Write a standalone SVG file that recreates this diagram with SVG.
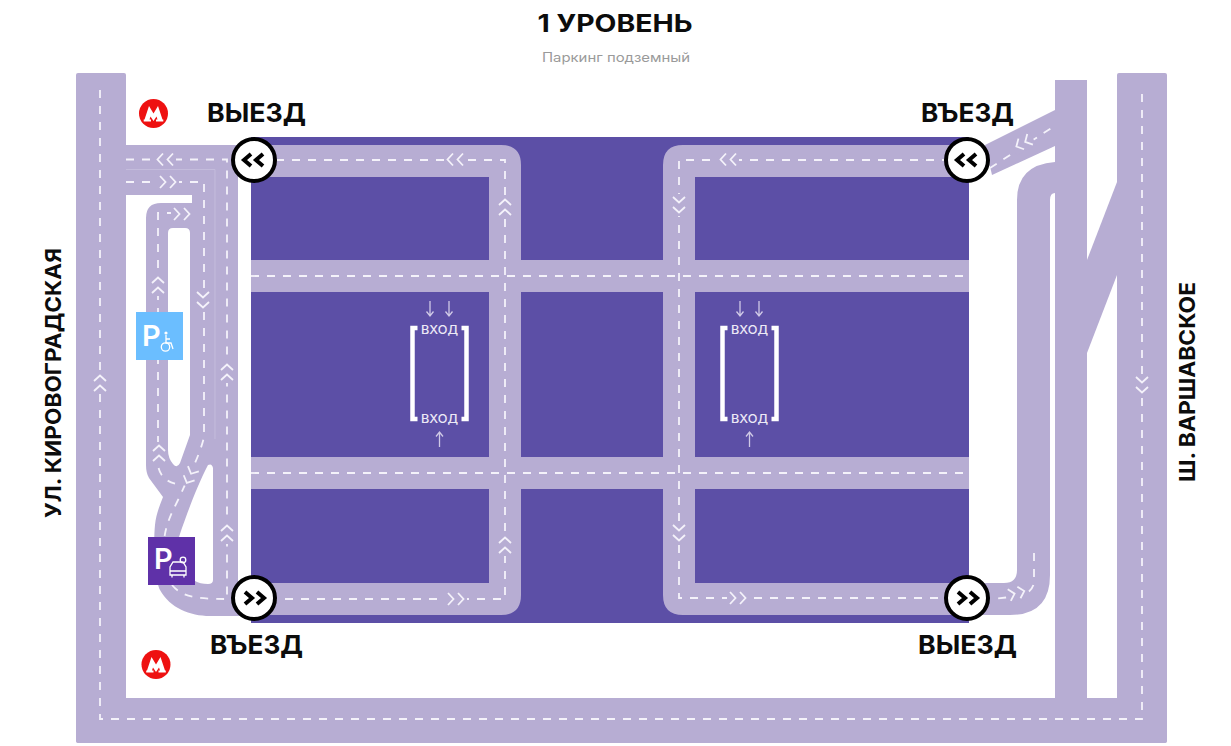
<svg xmlns="http://www.w3.org/2000/svg" xmlns:xlink="http://www.w3.org/1999/xlink" width="1231" height="746" viewBox="0 0 1231 746">
<style>
.road{fill:#b7add3}
.cut{fill:#fff}
.lane{fill:none;stroke:#f4f2fa;stroke-width:1.8;stroke-dasharray:8 8}
.chev{fill:none;stroke:#f4f2fa;stroke-width:1.8}
.sep{fill:none;stroke:#c4bcdc;stroke-width:1}
.ring{fill:#fff;stroke:#000;stroke-width:4}
.gate{fill:none;stroke:#000;stroke-width:4}
.lbl{font-family:"Inter","Liberation Sans",sans-serif;font-weight:700;fill:#0c0c0c}
.ent{font-family:"Inter","Liberation Sans",sans-serif;font-weight:500;font-size:11.5px;fill:#ece9f6;text-anchor:middle}
.arw{fill:none;stroke:#cfc9e6;stroke-width:1.3}
.brk{fill:none;stroke:#fff;stroke-width:4.5}
.ico{fill:none;stroke:#fff;stroke-width:1.3}
.pk{font-family:"Inter","Liberation Sans",sans-serif;font-weight:600;font-size:29px;fill:#fff}
</style>
<defs>
<g id="chv"><rect class="road" x="-8" y="-11" width="16" height="22"/><path class="chev" d="M-6 -2 L0 -7.500 L6 -2 M-6 8 L0 2.500 L6 8"/></g>
<g id="metroM"><circle r="14.500" fill="#ee1111"/><path fill="#fff" d="M-9 6 L-4.500 -7.500 L0 0 L4.500 -7.500 L9 6 L9.800 6 V8 H2.500 V6 H4 L3 3 L0 7.500 L-3 3 L-4 6 H-2.500 V8 H-9.800 V6 Z"/></g>
<g id="ll"><path class="gate" d="M-3 -6 L-10 0 L-3 6 M9 -6 L2 0 L9 6"/></g>
<g id="entry">
<path class="arw" d="M-9.500 -28 V-13 M-13 -17.500 L-9.500 -13 L-6 -17.500 M9.500 -28 V-13 M6 -17.500 L9.500 -13 L13 -17.500 M0 118 V103 M-3.500 107.500 L0 103 L3.500 107.500"/>
<path class="brk" d="M-22 0 H-27 V91 H-22 M22 0 H27 V91 H22" transform="translate(0 -1)"/>
<text class="ent" x="0" y="5" textLength="37" lengthAdjust="spacingAndGlyphs">ВХОД</text>
<text class="ent" x="0" y="94" textLength="37" lengthAdjust="spacingAndGlyphs">ВХОД</text>
</g>
</defs>
<rect width="1231" height="746" fill="#fff"/>
<text class="lbl" x="615" y="32" text-anchor="middle" font-size="24" textLength="155" lengthAdjust="spacingAndGlyphs">1 УРОВЕНЬ</text>
<text x="616" y="62" text-anchor="middle" font-family="Inter, 'Liberation Sans', sans-serif" font-size="12.500" fill="#9a9a9a" textLength="148" lengthAdjust="spacingAndGlyphs">Паркинг подземный</text>

<g id="building"><rect x="251" y="137" width="718" height="486" fill="#5c4fa6"/></g>
<g id="roads">
<rect class="road" x="76" y="73" width="50" height="670" rx="2"/>
<rect class="road" x="76" y="698" width="1091" height="45" rx="3"/>
<rect class="road" x="1117" y="73" width="50" height="670" rx="2"/>
<rect class="road" x="1055" y="80" width="32" height="625"/>
<path class="road" d="M1087 260 L1117 182 V275 L1087 353 Z"/>
<path class="road" d="M985 145 L1055 110 V146 L992 175 Z"/>
<path class="road" d="M1055 162 Q1017 165 1017 200 V570 Q1017 583 1004 583 H965 V615 H1010 Q1050 615 1050 575 V200 Q1050 193 1055 193 Z"/>
<path class="road" d="M126 145 H238 V583 H251 V616 H210 C190 616 170 608 160 590 C155 580 153 545 155 525 C156 515 159 507 163 497 L149 478 Q146 473 146 465 V218 Q146 203 161 203 H192 V195 H126 Z"/>
<path class="cut" d="M168 233 Q168 228 173 228 H185 Q190 228 190 233 V435 L180 463 Q177 469 173 464 Q168 458 168 450 Z"/>
<path class="cut" d="M208 465 Q212 463 213 468 V580 Q213 584 208 584 Q200 584 195 581 V537 H179 C183 525 195 490 208 465 Z"/>
<path class="road" d="M240 145 H501 Q521 145 521 165 V595 Q521 615 501 615 H240 V583 H489 V177 H240 Z"/>
<path class="road" d="M975 145 H683 Q663 145 663 165 V595 Q663 615 683 615 H975 V583 H695 V177 H975 Z"/>
<rect class="road" x="251" y="260" width="718" height="32"/>
<rect class="road" x="251" y="457" width="718" height="32"/>
<path class="sep" d="M126 169.500 H215 V439"/>
</g>
<g id="connectors">
<path class="lane" d="M100 90 V719 H1142 V93"/>
<path class="lane" d="M126 159.500 H227 V598"/>
<path class="lane" d="M126 182 H204 V437 C200 455 188 478 178 500 C170 516 166 525 164 540"/>
<path class="lane" d="M172 585 C182 597 195 599 227 599"/>
<path class="lane" d="M175 213 H158 V465 Q160 480 176 484"/>
<path class="lane" d="M276 160 H505 V599 H276"/>
<path class="lane" d="M950 160 H679 V598 H950"/>
<path class="lane" d="M251 276 H969"/>
<path class="lane" d="M251 473 H969"/>
<path class="lane" d="M990 168 L1053 127"/>
<path class="lane" d="M1034 553 V582 Q1033 592 1020 596 L992 599"/>
<use xlink:href="#chv" transform="translate(100 383)"/>
<use xlink:href="#chv" transform="translate(1142 385) rotate(180)"/>
<use xlink:href="#chv" transform="translate(165 159.500) rotate(-90)"/>
<use xlink:href="#chv" transform="translate(168 182) rotate(90)"/>
<use xlink:href="#chv" transform="translate(182 214) rotate(90)"/>
<use xlink:href="#chv" transform="translate(203 300) rotate(180)"/>
<use xlink:href="#chv" transform="translate(158 285)"/>
<use xlink:href="#chv" transform="translate(159 453)"/>
<use xlink:href="#chv" transform="translate(227 372)"/>
<use xlink:href="#chv" transform="translate(227 533)"/>
<use xlink:href="#chv" transform="translate(190 476) rotate(-155)"/>
<use xlink:href="#chv" transform="translate(505 207)"/>
<use xlink:href="#chv" transform="translate(505 545)"/>
<use xlink:href="#chv" transform="translate(679 205) rotate(180)"/>
<use xlink:href="#chv" transform="translate(679 533) rotate(180)"/>
<use xlink:href="#chv" transform="translate(455 159.500) rotate(-90)"/>
<use xlink:href="#chv" transform="translate(728 159.500) rotate(-90)"/>
<use xlink:href="#chv" transform="translate(456 599) rotate(90)"/>
<use xlink:href="#chv" transform="translate(738 598) rotate(90)"/>
<use xlink:href="#chv" transform="translate(1023 143) rotate(-118)"/>
<use xlink:href="#chv" transform="translate(1017 593) rotate(75)"/>
</g>

<g id="gate-exit-nw"><circle class="ring" cx="254" cy="160" r="21"/><use xlink:href="#ll" transform="translate(254 160)"/></g>
<g id="gate-entry-sw"><circle class="ring" cx="254" cy="598" r="21"/><use xlink:href="#ll" transform="translate(254 598) rotate(180)"/></g>
<g id="gate-entry-ne"><circle class="ring" cx="967" cy="160" r="21"/><use xlink:href="#ll" transform="translate(967 160)"/></g>
<g id="gate-exit-se"><circle class="ring" cx="967" cy="598" r="21"/><use xlink:href="#ll" transform="translate(967 598) rotate(180)"/></g>

<g id="label-nw"><text class="lbl" x="207" y="122" font-size="26" textLength="99" lengthAdjust="spacingAndGlyphs">ВЫЕЗД</text></g>
<g id="label-sw"><text class="lbl" x="210" y="654" font-size="26" textLength="93" lengthAdjust="spacingAndGlyphs">ВЪЕЗД</text></g>
<g id="label-ne"><text class="lbl" x="921" y="122" font-size="26" textLength="93" lengthAdjust="spacingAndGlyphs">ВЪЕЗД</text></g>
<g id="label-se"><text class="lbl" x="918" y="654" font-size="26" textLength="99" lengthAdjust="spacingAndGlyphs">ВЫЕЗД</text></g>
<g id="label-west"><text class="lbl" transform="translate(61 518) rotate(-90)" font-size="22" textLength="270" lengthAdjust="spacingAndGlyphs">УЛ. КИРОВОГРАДСКАЯ</text></g>
<g id="label-east"><text class="lbl" transform="translate(1195 482) rotate(-90)" font-size="22" textLength="200" lengthAdjust="spacingAndGlyphs">Ш. ВАРШАВСКОЕ</text></g>

<g id="metro-n"><use xlink:href="#metroM" transform="translate(153.500 113.500)"/></g>
<g id="metro-s"><use xlink:href="#metroM" transform="translate(156 664.500)"/></g>

<g id="parking-disabled">
<rect x="136" y="312" width="47" height="48" fill="#6bbeff"/>
<text class="pk" x="142" y="346">P</text>
<circle cx="166" cy="333" r="1.600" fill="#fff"/>
<path class="ico" d="M166 335 V343 H171 L173 349 M166 339 H170"/>
<circle cx="165.500" cy="347" r="4.200" class="ico"/>
</g>
<g id="parking-car">
<rect x="148" y="537" width="47" height="48" fill="#5f31a8"/>
<text class="pk" x="154" y="569">P</text>
<path class="ico" d="M170 575 V567 L173 562 H183 L186 567 V575 Z M170 571 H186 M172 575 V577.500 M184 575 V577.500"/>
<circle class="ico" cx="183" cy="560" r="2.800"/>
</g>

<g id="entrance-west"><use xlink:href="#entry" transform="translate(439.500 329)"/></g>
<g id="entrance-east"><use xlink:href="#entry" transform="translate(749.500 329)"/></g>
</svg>
